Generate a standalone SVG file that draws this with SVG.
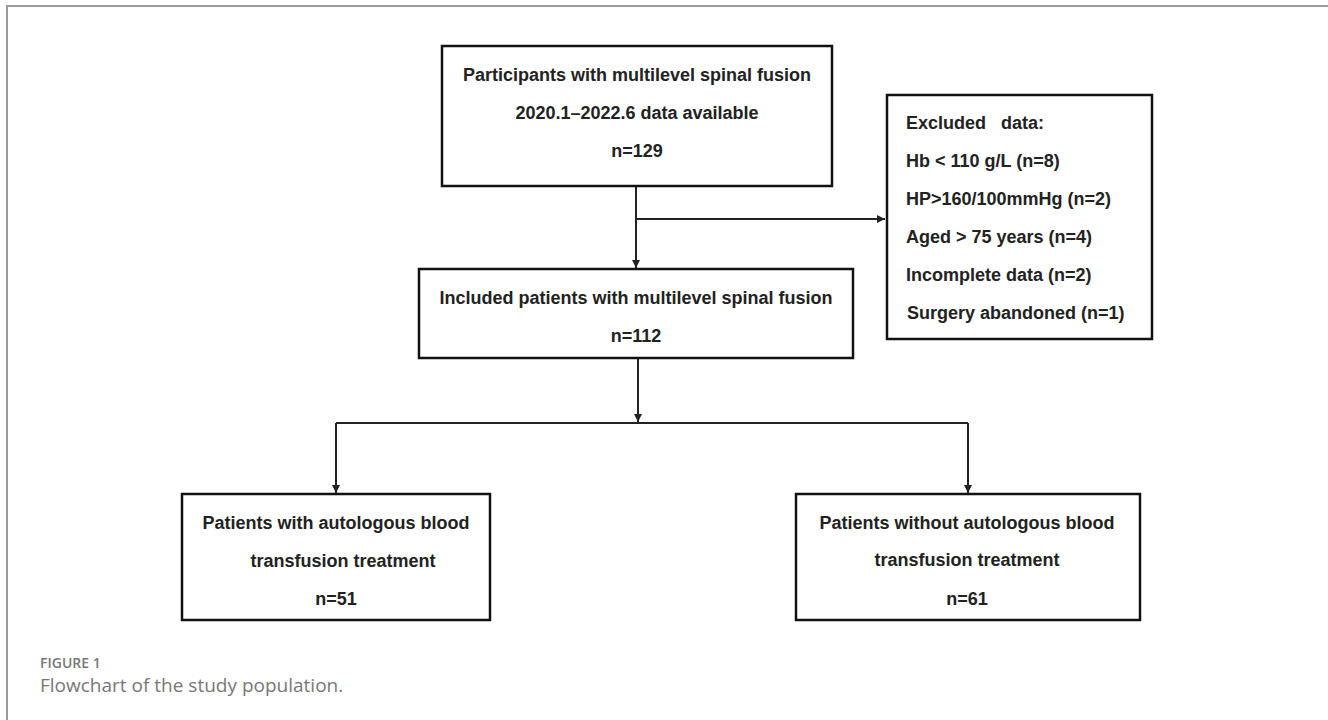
<svg xmlns="http://www.w3.org/2000/svg" width="1328" height="720" viewBox="0 0 1328 720">
<defs>
<marker id="ah" viewBox="0 0 10 10" refX="10" refY="5" markerWidth="8" markerHeight="8" markerUnits="userSpaceOnUse" orient="auto">
<path d="M0,0 L10,5 L0,10 z" fill="#222"/>
</marker>
<style>
.box{fill:#fff;stroke:#111;stroke-width:2.5}
.t{font-family:"Liberation Sans",Arial,sans-serif;font-weight:bold;font-size:18px;fill:#222}
.c{text-anchor:middle}
.ln{fill:none;stroke:#222;stroke-width:2}
.frame{fill:none;stroke:#999;stroke-width:2}
.cap{font-family:"Open Sans","Liberation Sans",sans-serif;fill:#777}
</style>
</defs>
<rect width="1328" height="720" fill="#fff"/>
<path class="frame" d="M7,720 L7,6 L1328,6"/>
<g id="connectors">
<path class="ln" d="M636,186 L636,268" marker-end="url(#ah)"/>
<path class="ln" d="M636,219 L885,219" marker-end="url(#ah)"/>
<path class="ln" d="M638,358 L638,422" marker-end="url(#ah)"/>
<path class="ln" d="M336,423 L968,423"/>
<path class="ln" d="M336,423 L336,493" marker-end="url(#ah)"/>
<path class="ln" d="M968,423 L968,493" marker-end="url(#ah)"/>
</g>
<g id="participants">
<rect class="box" x="442" y="46" width="390" height="140"/>
<text class="t c" x="637" y="81">Participants with multilevel spinal fusion</text>
<text class="t c" x="637" y="119">2020.1–2022.6 data available</text>
<text class="t c" x="637" y="157">n=129</text>
</g>
<g id="excluded">
<rect class="box" x="887" y="95" width="265" height="244"/>
<text class="t" x="906" y="129" xml:space="preserve">Excluded   data:</text>
<text class="t" x="906" y="167">Hb &lt; 110 g/L (n=8)</text>
<text class="t" x="906" y="205">HP&gt;160/100mmHg (n=2)</text>
<text class="t" x="906" y="243">Aged &gt; 75 years (n=4)</text>
<text class="t" x="906" y="281">Incomplete data (n=2)</text>
<text class="t" x="907" y="319">Surgery abandoned (n=1)</text>
</g>
<g id="included">
<rect class="box" x="419" y="269" width="434" height="89"/>
<text class="t c" x="636" y="304">Included patients with multilevel spinal fusion</text>
<text class="t c" x="636" y="342">n=112</text>
</g>
<g id="with-abt">
<rect class="box" x="182" y="494" width="308" height="126"/>
<text class="t c" x="336" y="529">Patients with autologous blood</text>
<text class="t c" x="343" y="567">transfusion treatment</text>
<text class="t c" x="336" y="605">n=51</text>
</g>
<g id="without-abt">
<rect class="box" x="796" y="494" width="344" height="126"/>
<text class="t c" x="967" y="529">Patients without autologous blood</text>
<text class="t c" x="967" y="566">transfusion treatment</text>
<text class="t c" x="967" y="605">n=61</text>
</g>
<text class="cap" x="40" y="668" font-size="14" font-weight="600">FIGURE 1</text>
<text class="cap" x="40" y="692" font-size="19">Flowchart of the study population.</text>
</svg>
